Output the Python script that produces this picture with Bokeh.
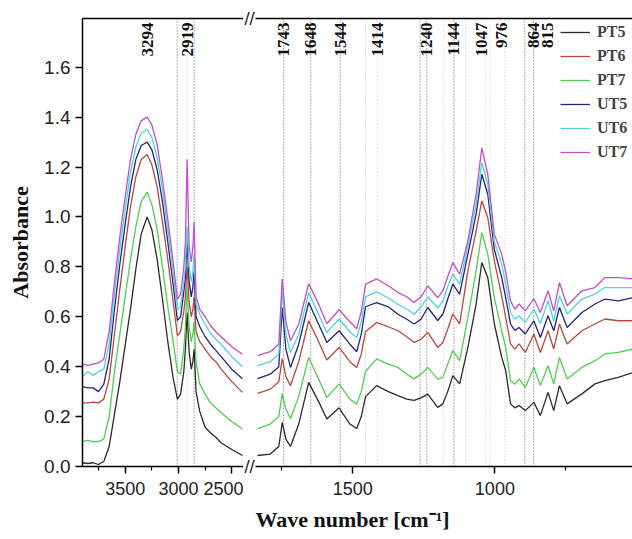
import numpy as np
from bokeh.plotting import figure
from bokeh.models import (FixedTicker, LinearAxis, Span, Legend, LegendItem, Title,
                          Range1d, NumeralTickFormatter)
from bokeh.layouts import row
from bokeh.embed import file_html
from bokeh.resources import INLINE
from bokeh.core.properties import value

# ---------------- data ----------------
SERIES = ["PT5", "PT6", "PT7", "UT5", "UT6", "UT7"]
COLORS = ["#2a2a2a", "#b8483f", "#4fcf4f", "#23237a", "#4fd3e0", "#c050c8"]

WAVE_HIGH = [3900, 3850, 3800, 3750, 3700, 3650, 3600, 3550, 3500, 3450, 3400, 3350,
             3294, 3250, 3200, 3150, 3100, 3050, 3010, 2980, 2950, 2935, 2919, 2900,
             2880, 2865, 2853, 2835, 2800, 2750, 2700, 2650, 2600, 2500, 2400]
PT5_HIGH = [0.015, 0.012, 0.015, 0.008, 0.02, 0.08, 0.21, 0.34, 0.485, 0.63, 0.79, 0.93,
            1.00, 0.95, 0.83, 0.67, 0.50, 0.355, 0.27, 0.29, 0.38, 0.47, 0.617, 0.46,
            0.39, 0.42, 0.47, 0.30, 0.22, 0.157, 0.135, 0.117, 0.095, 0.068, 0.044]
PT6_HIGH = [0.255, 0.255, 0.258, 0.255, 0.27, 0.35, 0.53, 0.71, 0.88, 1.04, 1.16, 1.23,
            1.25, 1.21, 1.12, 0.98, 0.83, 0.66, 0.525, 0.54, 0.62, 0.68, 0.80, 0.66,
            0.60, 0.63, 0.68, 0.54, 0.50, 0.47, 0.44, 0.42, 0.39, 0.34, 0.297]
PT7_HIGH = [0.10, 0.105, 0.10, 0.10, 0.11, 0.20, 0.38, 0.53, 0.68, 0.83, 0.96, 1.06,
            1.10, 1.05, 0.95, 0.80, 0.64, 0.50, 0.38, 0.37, 0.47, 0.56, 0.72, 0.56,
            0.50, 0.53, 0.58, 0.42, 0.33, 0.29, 0.255, 0.235, 0.215, 0.18, 0.15]
UT5_HIGH = [0.32, 0.315, 0.315, 0.30, 0.33, 0.43, 0.63, 0.81, 0.97, 1.12, 1.23, 1.285,
            1.30, 1.27, 1.19, 1.06, 0.90, 0.73, 0.585, 0.60, 0.70, 0.76, 0.90, 0.74,
            0.68, 0.72, 0.78, 0.60, 0.56, 0.52, 0.49, 0.465, 0.44, 0.39, 0.352]
UT6_HIGH = [0.36, 0.38, 0.365, 0.38, 0.39, 0.49, 0.69, 0.87, 1.03, 1.18, 1.28, 1.335,
            1.35, 1.32, 1.24, 1.11, 0.95, 0.78, 0.63, 0.64, 0.74, 0.80, 0.96, 0.80,
            0.74, 0.78, 0.85, 0.65, 0.61, 0.57, 0.535, 0.51, 0.49, 0.44, 0.40]
UT7_HIGH = [0.41, 0.405, 0.41, 0.415, 0.43, 0.54, 0.74, 0.92, 1.08, 1.23, 1.33, 1.385,
            1.40, 1.37, 1.29, 1.15, 0.99, 0.82, 0.67, 0.69, 0.80, 0.90, 1.23, 0.88,
            0.82, 0.88, 0.98, 0.68, 0.63, 0.60, 0.565, 0.54, 0.52, 0.48, 0.45]

WAVE_LOW = [1835, 1790, 1760, 1748, 1735, 1719, 1690, 1655, 1620, 1591, 1548, 1510,
            1486, 1470, 1455, 1416, 1375, 1341, 1310, 1284, 1260, 1236, 1201, 1183,
            1166, 1148, 1124, 1095, 1066, 1046, 1025, 1002, 976, 962, 945, 930, 915,
            893, 863, 840, 813, 793, 773, 746, 694, 648, 613, 566, 513]
PT5_LOW = [0.044, 0.05, 0.08, 0.177, 0.11, 0.08, 0.17, 0.337, 0.26, 0.19, 0.235, 0.17,
           0.152, 0.20, 0.28, 0.324, 0.30, 0.284, 0.27, 0.265, 0.275, 0.29, 0.237, 0.251,
           0.30, 0.364, 0.331, 0.477, 0.651, 0.817, 0.757, 0.571, 0.437, 0.384, 0.251,
           0.235, 0.244, 0.224, 0.257, 0.204, 0.297, 0.224, 0.324, 0.251, 0.291, 0.331,
           0.344, 0.357, 0.377]
PT6_LOW = [0.293, 0.31, 0.34, 0.432, 0.36, 0.324, 0.42, 0.584, 0.50, 0.427, 0.477, 0.42,
           0.397, 0.45, 0.54, 0.577, 0.56, 0.544, 0.52, 0.497, 0.51, 0.537, 0.477, 0.497,
           0.55, 0.611, 0.571, 0.784, 0.944, 1.064, 0.997, 0.824, 0.684, 0.597, 0.491,
           0.47, 0.491, 0.457, 0.531, 0.457, 0.544, 0.471, 0.571, 0.491, 0.544, 0.571,
           0.591, 0.584, 0.584]
PT7_LOW = [0.152, 0.17, 0.20, 0.292, 0.23, 0.192, 0.28, 0.437, 0.35, 0.277, 0.331, 0.27,
           0.25, 0.30, 0.38, 0.431, 0.41, 0.397, 0.37, 0.351, 0.37, 0.397, 0.35, 0.357,
           0.41, 0.464, 0.424, 0.597, 0.784, 0.937, 0.851, 0.677, 0.544, 0.477, 0.344,
           0.33, 0.351, 0.317, 0.397, 0.324, 0.404, 0.331, 0.437, 0.351, 0.397, 0.424,
           0.451, 0.457, 0.471]
UT5_LOW = [0.352, 0.37, 0.40, 0.637, 0.47, 0.397, 0.49, 0.657, 0.57, 0.497, 0.544, 0.49,
           0.46, 0.53, 0.64, 0.657, 0.64, 0.61, 0.59, 0.571, 0.59, 0.637, 0.585, 0.611,
           0.67, 0.731, 0.691, 0.851, 1.011, 1.171, 1.091, 0.87, 0.757, 0.677, 0.571,
           0.545, 0.557, 0.531, 0.584, 0.517, 0.604, 0.544, 0.637, 0.557, 0.617, 0.651,
           0.671, 0.664, 0.677]
UT6_LOW = [0.404, 0.42, 0.45, 0.70, 0.53, 0.457, 0.53, 0.697, 0.61, 0.537, 0.591, 0.54,
           0.517, 0.58, 0.68, 0.70, 0.675, 0.65, 0.63, 0.61, 0.64, 0.68, 0.635, 0.664,
           0.72, 0.771, 0.731, 0.884, 1.051, 1.217, 1.131, 0.90, 0.811, 0.731, 0.617,
           0.59, 0.604, 0.577, 0.631, 0.573, 0.664, 0.584, 0.684, 0.611, 0.671, 0.691,
           0.717, 0.717, 0.717]
UT7_LOW = [0.444, 0.46, 0.49, 0.752, 0.58, 0.504, 0.57, 0.733, 0.65, 0.572, 0.628, 0.58,
           0.552, 0.62, 0.73, 0.752, 0.724, 0.697, 0.68, 0.657, 0.68, 0.724, 0.677, 0.704,
           0.76, 0.817, 0.771, 0.904, 1.091, 1.277, 1.171, 0.93, 0.851, 0.78, 0.664,
           0.63, 0.651, 0.624, 0.672, 0.617, 0.704, 0.624, 0.737, 0.644, 0.704, 0.717,
           0.757, 0.757, 0.752]

HIGH_SERIES = [PT5_HIGH, PT6_HIGH, PT7_HIGH, UT5_HIGH, UT6_HIGH, UT7_HIGH]
LOW_SERIES = [PT5_LOW, PT6_LOW, PT7_LOW, UT5_LOW, UT6_LOW, UT7_LOW]

PEAKS_HIGH = [3294, 2919]
PEAKS_LOW = [1743, 1648, 1544, 1414, 1240, 1144, 1047, 976, 864, 815]
GUIDES_DARK_HIGH = [3012, 2853]
GUIDES_LIGHT_HIGH = [2919]
GUIDES_DARK_LOW = [1743, 1648, 1544, 1263, 1240, 1144, 895, 864]
GUIDES_LIGHT_LOW = [1455, 1414, 1180, 1103, 1034, 1017, 964]

X_TICKS_HIGH = [3500, 3000, 2500]
X_MINOR_HIGH = [3750, 3250, 2750]
X_TICKS_LOW = [1500, 1000]
X_MINOR_LOW = [1750, 750]
Y_TICKS = [0.0, 0.2, 0.4, 0.6, 0.8, 1.0, 1.2, 1.4, 1.6]

X_RANGE_HIGH = (3900, 2390)
X_RANGE_LOW = (1842, 516)
Y_RANGE = (0.0, 1.795)

# ---------------- layout (pixels) ----------------
H = 539
TOP_B, BOT_B = 18, 73
LEFT_B = 82
W_LEFT_FRAME = 161
W_MID = 12
W_RIGHT = 632 - LEFT_B - W_LEFT_FRAME - W_MID
W_LEFT = LEFT_B + W_LEFT_FRAME

SERIF = "Liberation Serif"
SANS = "Liberation Sans"


def style_axis(ax, font_size):
    ax.axis_line_width = 1.5
    ax.major_tick_line_width = 1.5
    ax.minor_tick_line_width = 1.2
    ax.major_tick_out = 7
    ax.major_tick_in = 0
    ax.minor_tick_out = 4
    ax.minor_tick_in = 0
    ax.major_label_text_font = SANS
    ax.major_label_text_font_size = font_size
    ax.major_label_text_color = "#222222"
    ax.major_label_standoff = 5


def base_fig(width, xr, left_border):
    p = figure(width=width, height=H, output_backend="svg", toolbar_location=None,
               x_range=Range1d(*xr), y_range=Range1d(*Y_RANGE),
               x_axis_location=None, y_axis_location=None,
               min_border_left=left_border, min_border_right=0,
               min_border_top=TOP_B, min_border_bottom=BOT_B)
    p.outline_line_color = None
    p.xgrid.grid_line_color = None
    p.ygrid.grid_line_color = None
    p.border_fill_color = "white"
    return p


def make_fig(width, xr, left_border, ticks, minor):
    p = base_fig(width, xr, left_border)
    top = LinearAxis(ticker=FixedTicker(ticks=[]), major_tick_out=0, major_tick_in=0,
                     minor_tick_out=0, minor_tick_in=0, major_label_standoff=0,
                     major_label_text_font_size="0px", axis_line_width=1.5)
    p.add_layout(top, "above")
    bottom = LinearAxis(ticker=FixedTicker(ticks=ticks, minor_ticks=minor))
    style_axis(bottom, "18px")
    bottom.major_label_standoff = 8
    p.add_layout(bottom, "below")
    return p


p1 = make_fig(W_LEFT, X_RANGE_HIGH, LEFT_B, X_TICKS_HIGH, X_MINOR_HIGH)
p2 = make_fig(W_RIGHT, X_RANGE_LOW, 0, X_TICKS_LOW, X_MINOR_LOW)

yax = LinearAxis(ticker=FixedTicker(ticks=Y_TICKS), formatter=NumeralTickFormatter(format="0.0"),
                 axis_label="Absorbance")
style_axis(yax, "19px")
yax.minor_tick_line_color = None
yax.axis_label_text_font = SERIF
yax.axis_label_text_font_style = "bold"
yax.axis_label_text_font_size = "22px"
yax.axis_label_text_color = "#111111"
yax.axis_label_standoff = 8
p1.add_layout(yax, "left")

# guide lines
for p, dark, light in [(p1, GUIDES_DARK_HIGH, GUIDES_LIGHT_HIGH),
                       (p2, GUIDES_DARK_LOW, GUIDES_LIGHT_LOW)]:
    for w in dark:
        p.add_layout(Span(location=w, dimension="height", line_color="#666666",
                          line_dash="1 2", line_width=1, level="underlay"))
    for w in light:
        p.add_layout(Span(location=w, dimension="height", line_color="#c4c4c4",
                          line_dash="1 2", line_width=1, level="underlay"))

# spectra
items = []
for name, color, yh, yl in zip(SERIES, COLORS, HIGH_SERIES, LOW_SERIES):
    p1.line(WAVE_HIGH, yh, line_color=color, line_width=1.3)
    r = p2.line(WAVE_LOW, yl, line_color=color, line_width=1.3)
    items.append(LegendItem(label=name, renderers=[r]))

legend = Legend(items=items, location=(305, 305), padding=0, margin=0, spacing=6,
                glyph_width=30, glyph_height=18, label_height=18, label_standoff=7,
                label_text_font=SERIF, label_text_font_style="bold",
                label_text_font_size="16px", border_line_color=None,
                background_fill_alpha=0)
p2.add_layout(legend)

# peak labels
label_y = Y_RANGE[1] - 0.016
for p, peaks in [(p1, PEAKS_HIGH), (p2, PEAKS_LOW)]:
    p.text(x=peaks, y=[label_y] * len(peaks), text=[str(v) for v in peaks],
           angle=np.pi / 2, text_align="right", text_baseline="middle",
           text_font=value(SERIF), text_font_style="bold", text_font_size="17px",
           text_color="#111111")

# x axis title
p2.add_layout(Title(text="Wave number [cm\u207b\u00b9]", align="left", offset=0,
                    standoff=15, text_font=SERIF, text_font_style="bold",
                    text_font_size="22px", text_color="#111111"), "below")

# axis-break marks: narrow spacer panel whose axes carry only a "//" tick label
pm = base_fig(W_MID, (0, 1), 0)
for side in ("above", "below"):
    brk = LinearAxis(ticker=FixedTicker(ticks=[0.5]), major_label_overrides={0.5: "//"},
                     axis_line_color=None, major_tick_line_color=None,
                     major_tick_out=0, major_tick_in=0, minor_tick_out=0, minor_tick_in=0,
                     major_label_standoff=-9, major_label_text_font="DejaVu Sans",
                     major_label_text_font_size="15px", major_label_text_color="black")
    pm.add_layout(brk, side)

layout = row(p1, pm, p2)
open("out.html", "w").write(file_html(layout, INLINE))
